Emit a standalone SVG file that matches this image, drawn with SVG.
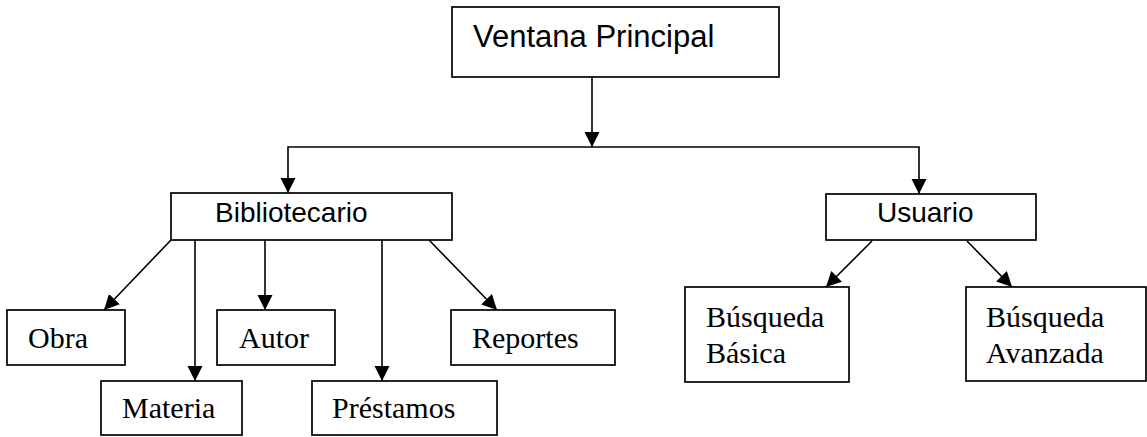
<svg xmlns="http://www.w3.org/2000/svg" width="1147" height="437" viewBox="0 0 1147 437">
<style>
.box{fill:#fff;stroke:#000;stroke-width:1.7}
.ln{fill:none;stroke:#000;stroke-width:1.6}
.sans{font-family:"Liberation Sans",Arial,sans-serif;fill:#000}
.serif{font-family:"Liberation Serif","Times New Roman",serif;font-size:30px;fill:#000}
</style>
<defs>
<marker id="ah" markerUnits="userSpaceOnUse" markerWidth="16" markerHeight="16" refX="15" refY="7.5" orient="auto">
<path d="M0,0 L15,7.5 L0,15 z" fill="#000"/>
</marker>
</defs>
<rect width="1147" height="437" fill="#fff"/>
<g id="connectors">
<path class="ln" d="M592,77 V147" marker-end="url(#ah)"/>
<path class="ln" d="M592,147 H288 V193" marker-end="url(#ah)"/>
<path class="ln" d="M592,147 H919 V194" marker-end="url(#ah)"/>
<path class="ln" d="M171,240 L104,310" marker-end="url(#ah)"/>
<path class="ln" d="M195,240 V381" marker-end="url(#ah)"/>
<path class="ln" d="M265,240 V310" marker-end="url(#ah)"/>
<path class="ln" d="M382,240 V381" marker-end="url(#ah)"/>
<path class="ln" d="M429,240 L497,310" marker-end="url(#ah)"/>
<path class="ln" d="M872,241 L826,287" marker-end="url(#ah)"/>
<path class="ln" d="M967,241 L1012,287" marker-end="url(#ah)"/>
</g>
<g id="ventana">
<rect class="box" x="452" y="7" width="327" height="70"/>
<text class="sans" x="473" y="47" font-size="31">Ventana Principal</text>
</g>
<g id="bibliotecario">
<rect class="box" x="171" y="193" width="281" height="47"/>
<text class="sans" x="215" y="222" font-size="28">Bibliotecario</text>
</g>
<g id="usuario">
<rect class="box" x="826" y="194" width="210" height="46"/>
<text class="sans" x="877" y="222" font-size="28">Usuario</text>
</g>
<g id="obra">
<rect class="box" x="7" y="310" width="118" height="55"/>
<text class="serif" x="28" y="348">Obra</text>
</g>
<g id="materia">
<rect class="box" x="101" y="381" width="141" height="54"/>
<text class="serif" x="122" y="418">Materia</text>
</g>
<g id="autor">
<rect class="box" x="217" y="310" width="118" height="55"/>
<text class="serif" x="239" y="348">Autor</text>
</g>
<g id="prestamos">
<rect class="box" x="312" y="381" width="185" height="54"/>
<text class="serif" x="332" y="418">Préstamos</text>
</g>
<g id="reportes">
<rect class="box" x="451" y="310" width="164" height="55"/>
<text class="serif" x="472" y="348">Reportes</text>
</g>
<g id="busqueda-basica">
<rect class="box" x="685" y="287" width="164" height="95"/>
<text class="serif" x="706" y="327">Búsqueda</text>
<text class="serif" x="706" y="363">Básica</text>
</g>
<g id="busqueda-avanzada">
<rect class="box" x="966" y="287" width="180" height="94"/>
<text class="serif" x="986" y="327">Búsqueda</text>
<text class="serif" x="986" y="363">Avanzada</text>
</g>
</svg>
